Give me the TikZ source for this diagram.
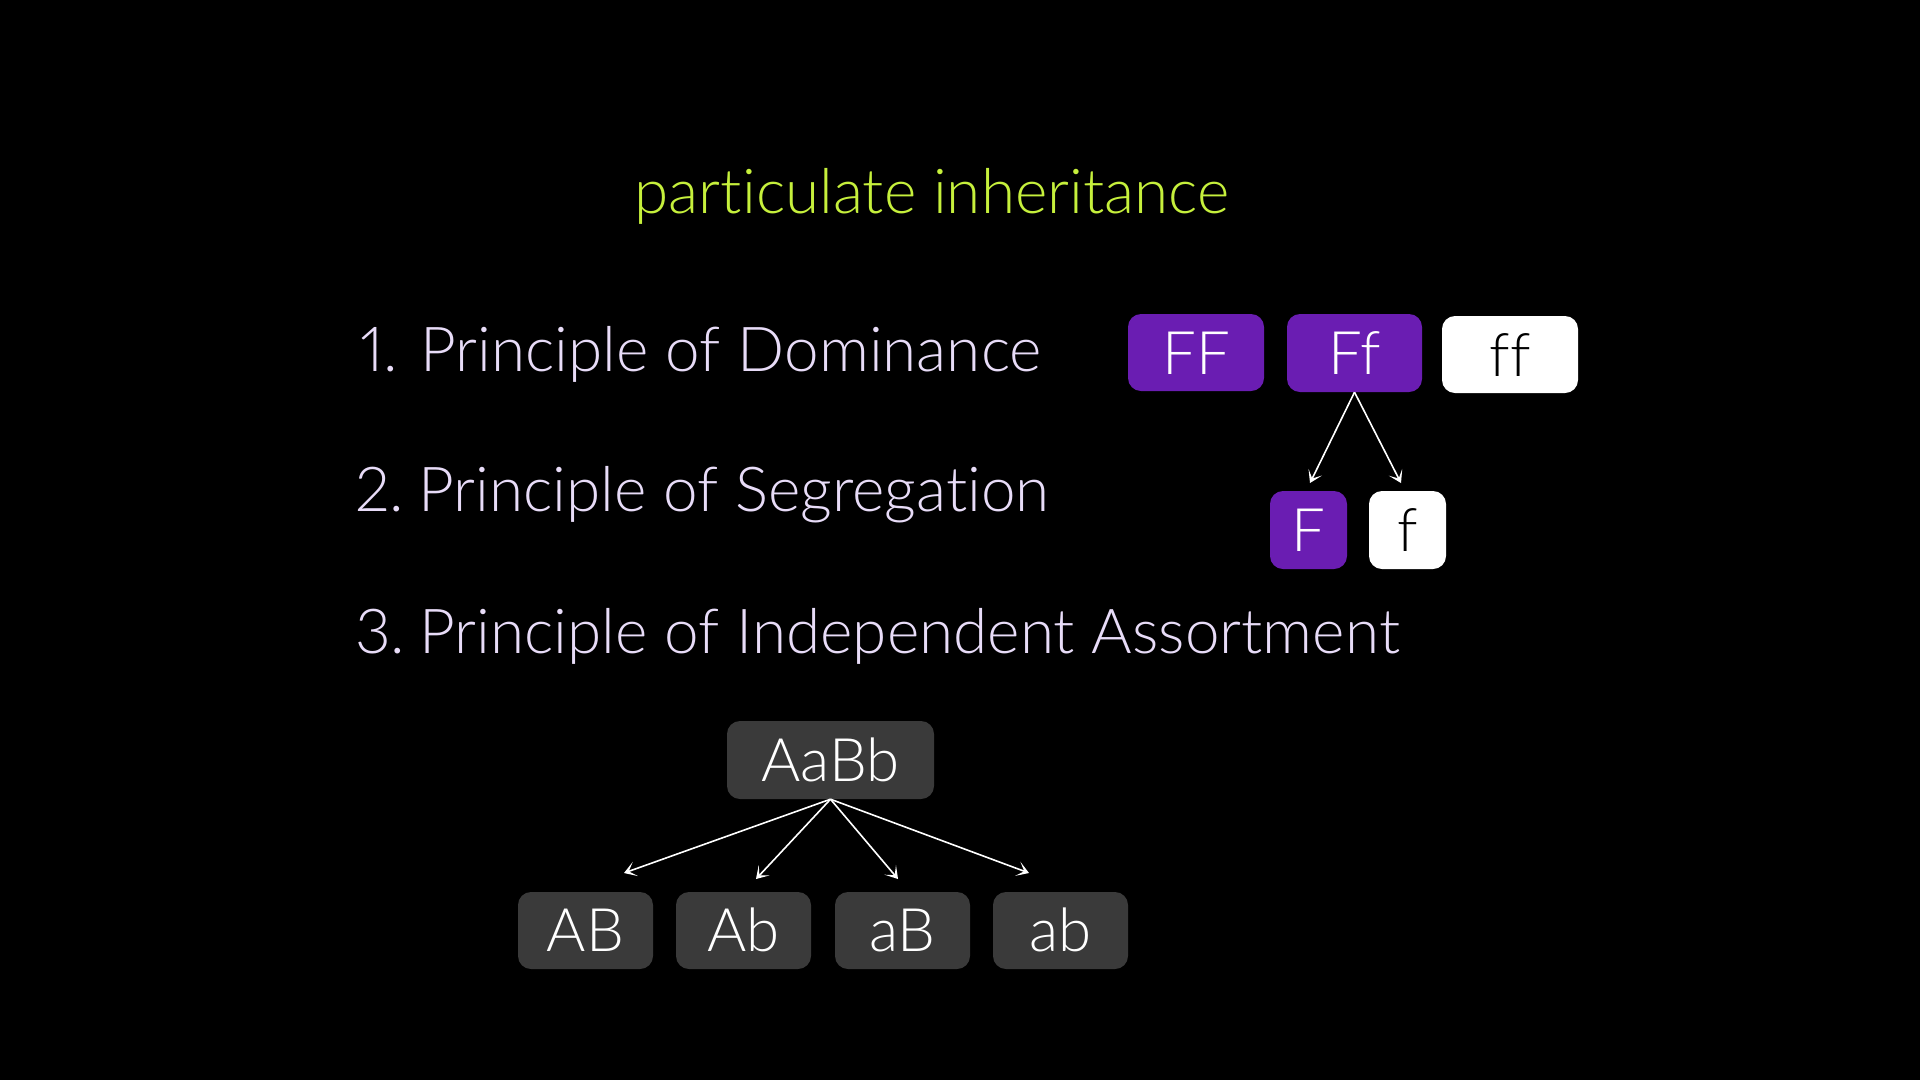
\documentclass[tikz,border=0pt]{standalone}
\usepackage{fontspec}
\setmainfont{Lato Light}[Ligatures=NoCommon, Numbers=Proportional]
\usetikzlibrary{arrows.meta}
\definecolor{titlecol}{HTML}{C6F03C}
\definecolor{listcol}{HTML}{E8DCF8}
\definecolor{purp}{HTML}{6A1DB2}
\definecolor{grbox}{HTML}{3A3A3A}
\tikzset{
  listtxt/.style={anchor=base west, text=listcol, inner sep=0pt, font=\fontsize{62}{74}\selectfont},
  titletxt/.style={anchor=base, text=titlecol, inner sep=0pt, font=\fontsize{62}{74}\selectfont},
  gbox/.style={rounded corners=13pt, inner sep=0pt, text height=43pt, text depth=0pt, font=\fontsize{60}{72}\selectfont},
  pbox/.style={gbox, fill=purp, text=white},
  wbox/.style={gbox, fill=white, text=black},
  dbox/.style={gbox, fill=grbox, text=white, text height=42pt, font=\fontsize{60}{72}\selectfont},
  arr/.style={draw=white, line width=1.6pt, -{Stealth[length=12pt,width=15pt,inset=7pt]}}
}
\begin{document}
\begin{tikzpicture}[x=1pt,y=-1pt]
\fill[black] (0,0) rectangle (1920,1080);
\useasboundingbox (0,0) rectangle (1920,1080);

\node[titletxt] (title) at (932,213) {particulate inheritance};
\node[listtxt] (l1) at (360,371) {1. Principle of Dominance};
\node[listtxt] (l2) at (355,511) {2.\kern-3pt\ Principle of Segregation};
\node[listtxt] (l3) at (355,653) {3.\kern-3pt\ Principle of Independent Assortment};

\node[pbox, minimum width=136pt, minimum height=77pt] (FF) at (1196,352.5) {FF};
\node[pbox, minimum width=135pt, minimum height=78pt] (Ff) at (1354.5,353) {Ff};
\node[wbox, minimum width=136pt, minimum height=77pt] (ff) at (1510,354.5) {ff};
\node[pbox, minimum width=77pt, minimum height=78pt] (F) at (1308.5,530) {F};
\node[wbox, minimum width=77pt, minimum height=78pt] (f) at (1407.5,530) {f};

\coordinate (eF) at (1310,483);
\coordinate (ef) at (1401,483);
\draw[arr] (Ff.south) -- (eF);
\draw[arr] (Ff.south) -- (ef);

\node[dbox, minimum width=207pt, minimum height=78pt] (AaBb) at (830.5,760) {AaBb};
\node[dbox, minimum width=135pt, minimum height=77pt] (AB) at (585.5,930.5) {AB};
\node[dbox, minimum width=135pt, minimum height=77pt] (Ab) at (743.5,930.5) {Ab};
\node[dbox, minimum width=135pt, minimum height=77pt] (aB) at (902.5,930.5) {aB};
\node[dbox, minimum width=135pt, minimum height=77pt] (ab) at (1060.5,930.5) {ab};

\coordinate (e1) at (624,873);
\coordinate (e2) at (756,879);
\coordinate (e3) at (898,879);
\coordinate (e4) at (1029,873);
\draw[arr] (AaBb.south) -- (e1);
\draw[arr] (AaBb.south) -- (e2);
\draw[arr] (AaBb.south) -- (e3);
\draw[arr] (AaBb.south) -- (e4);
\end{tikzpicture}
\end{document}
